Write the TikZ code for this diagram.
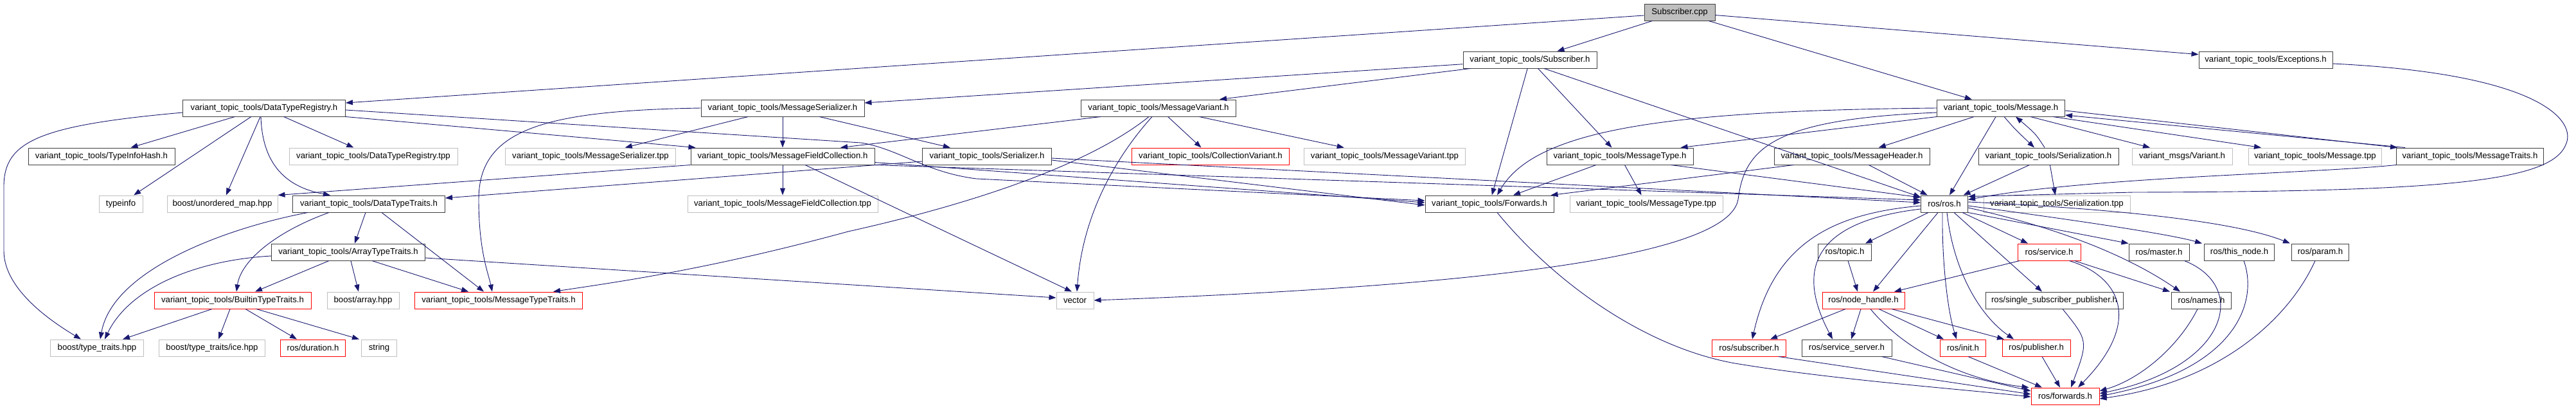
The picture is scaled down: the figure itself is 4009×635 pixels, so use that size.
\documentclass[tikz,border=0pt]{standalone}
\usepackage{fontspec}
\setmainfont{Liberation Sans}
\usetikzlibrary{arrows.meta}
\definecolor{edgec}{HTML}{191970}
\definecolor{grayb}{HTML}{BFBFBF}
\definecolor{darkb}{HTML}{404040}
\begin{document}
\begin{tikzpicture}[x=1pt,y=-1pt,
 nb/.style={draw=darkb,line width=1pt,fill=white,minimum height=26pt,inner sep=0pt,font=\fontsize{13.2}{15}\selectfont,text=black},
 gb/.style={nb,draw=grayb},
 rb/.style={nb,draw=red},
 rootb/.style={nb,fill=grayb},
 edg/.style={draw=edgec,line width=0.9pt,-{Triangle[length=11pt,width=8pt]}}]
\useasboundingbox (0,0) rectangle (4009,635);
% row 0-1
\node[rootb,minimum width=110pt] (scpp) at (2614,19) {Subscriber.cpp};
\node[nb,minimum width=208pt] (subh) at (2381,93) {variant\_topic\_tools/Subscriber.h};
\node[nb,minimum width=208pt] (exc) at (3526,93) {variant\_topic\_tools/Exceptions.h};
% row 2
\node[nb,minimum width=253pt] (dtr) at (411,168) {variant\_topic\_tools/DataTypeRegistry.h};
\node[nb,minimum width=254pt] (msh) at (1218,168) {variant\_topic\_tools/MessageSerializer.h};
\node[nb,minimum width=241pt] (mvh) at (1803,168) {variant\_topic\_tools/MessageVariant.h};
\node[nb,minimum width=199pt] (msg) at (3114,168) {variant\_topic\_tools/Message.h};
% row 3
\node[nb,minimum width=228pt] (tih) at (158,243) {variant\_topic\_tools/TypeInfoHash.h};
\node[gb,minimum width=262pt] (dtrtpp) at (581,243) {variant\_topic\_tools/DataTypeRegistry.tpp};
\node[gb,minimum width=265pt] (mstpp) at (919,243) {variant\_topic\_tools/MessageSerializer.tpp};
\node[nb,minimum width=286pt] (mfc) at (1218,243) {variant\_topic\_tools/MessageFieldCollection.h};
\node[nb,minimum width=201pt] (ser) at (1536,243) {variant\_topic\_tools/Serializer.h};
\node[rb,minimum width=245pt] (cv) at (1884,243) {variant\_topic\_tools/CollectionVariant.h};
\node[gb,minimum width=251pt] (mvtpp) at (2155,243) {variant\_topic\_tools/MessageVariant.tpp};
\node[nb,minimum width=228pt] (mth) at (2521,243) {variant\_topic\_tools/MessageType.h};
\node[nb,minimum width=242pt] (mhh) at (2882,243) {variant\_topic\_tools/MessageHeader.h};
\node[nb,minimum width=218pt] (slh) at (3188,243) {variant\_topic\_tools/Serialization.h};
\node[gb,minimum width=156pt] (var) at (3396,243) {variant\_msgs/Variant.h};
\node[gb,minimum width=207pt] (msgtpp) at (3603,243) {variant\_topic\_tools/Message.tpp};
\node[nb,minimum width=229pt] (mtr) at (3844,243) {variant\_topic\_tools/MessageTraits.h};
% row 4
\node[gb,minimum width=68pt] (tinfo) at (188,317) {typeinfo};
\node[gb,minimum width=172pt] (umap) at (346,317) {boost/unordered\_map.hpp};
\node[nb,minimum width=237pt] (dtt) at (574,317) {variant\_topic\_tools/DataTypeTraits.h};
\node[gb,minimum width=296pt] (mfctpp) at (1218,317) {variant\_topic\_tools/MessageFieldCollection.tpp};
\node[nb,minimum width=200pt] (fwd) at (2318,317) {variant\_topic\_tools/Forwards.h};
\node[gb,minimum width=238pt] (mttpp) at (2562,317) {variant\_topic\_tools/MessageType.tpp};
\node[nb,minimum width=73pt] (ros) at (3026,317) {ros/ros.h};
\node[gb,minimum width=228pt] (sltpp) at (3201,317) {variant\_topic\_tools/Serialization.tpp};
% row 5
\node[nb,minimum width=239pt] (att) at (542,392) {variant\_topic\_tools/ArrayTypeTraits.h};
\node[nb,minimum width=83pt] (topic) at (2871,392) {ros/topic.h};
\node[rb,minimum width=98pt] (service) at (3189,392) {ros/service.h};
\node[nb,minimum width=94pt] (master) at (3360,392) {ros/master.h};
\node[nb,minimum width=109pt] (thisnode) at (3485,392) {ros/this\_node.h};
\node[nb,minimum width=89pt] (param) at (3611,392) {ros/param.h};
% row 6
\node[rb,minimum width=244pt] (btt) at (362,467) {variant\_topic\_tools/BuiltinTypeTraits.h};
\node[gb,minimum width=112pt] (barr) at (565,467) {boost/array.hpp};
\node[rb,minimum width=261pt] (mtt) at (776,467) {variant\_topic\_tools/MessageTypeTraits.h};
\node[gb,minimum width=58pt] (vec) at (1673,467) {vector};
\node[rb,minimum width=128pt] (nh) at (2900,467) {ros/node\_handle.h};
\node[nb,minimum width=214pt] (ssp) at (3197,467) {ros/single\_subscriber\_publisher.h};
\node[nb,minimum width=93pt] (names) at (3426,467) {ros/names.h};
% row 7
\node[gb,minimum width=145pt] (btr) at (151,541) {boost/type\_traits.hpp};
\node[gb,minimum width=165pt] (ice) at (330,541) {boost/type\_traits/ice.hpp};
\node[rb,minimum width=101pt] (dur) at (487,541) {ros/duration.h};
\node[gb,minimum width=55pt] (str) at (590,541) {string};
\node[rb,minimum width=115pt] (sub) at (2722,541) {ros/subscriber.h};
\node[nb,minimum width=140pt] (ss) at (2874,541) {ros/service\_server.h};
\node[rb,minimum width=71pt] (init) at (3055,541) {ros/init.h};
\node[rb,minimum width=106pt] (pub) at (3169,541) {ros/publisher.h};
% row 8
\node[rb,minimum width=106pt] (rfwd) at (3214,616) {ros/forwards.h};

% ---- edges ----
\draw[edg] ([yshift=-5pt]scpp.west) -- ([yshift=8pt]dtr.east);
\draw[edg] (scpp) -- (subh);
\draw[edg] (scpp) -- (msg);
\draw[edg] (scpp) -- (exc);
\draw[edg] (subh) -- ([yshift=8pt]msh.east);
\draw[edg] ([xshift=12pt]subh.south west) -- ([xshift=95pt]mvh.north);
\draw[edg] (subh) -- (fwd);
\draw[edg] (subh) -- (mth);
\draw[edg] ([xshift=22pt]subh.south) -- ([yshift=-3pt]ros.north west);
% DataTypeRegistry
\draw[edg] (dtr) -- (tih);
\draw[edg] (dtr) -- (tinfo);
\draw[edg] (dtr) -- (umap);
\draw[edg] (dtr) -- (dtrtpp);
\draw[edg] ([xshift=-5pt]dtr.south) .. controls (408,250) and (440,290) .. ([xshift=-60pt]dtt.north);
\draw[edg] ([yshift=-7pt]dtr.west) .. controls (60,195) and (6,220) .. (6,290) -- (6,390) .. controls (6,450) and (80,500) .. ([xshift=-25pt]btr.north);
\draw[edg] ([yshift=-3pt]dtr.east) -- (1340,222) .. controls (1400,232) and (1440,268) .. (1520,278) -- ([yshift=5pt]fwd.west);
\draw[edg] (dtr.south east) -- ([xshift=8pt]mfc.north west);
% MessageSerializer
\draw[edg] (msh.west) .. controls (850,172) and (745,200) .. (745,310) .. controls (745,390) and (760,425) .. ([xshift=-10pt]mtt.north);
\draw[edg] (msh) -- (mstpp);
\draw[edg] (msh) -- (mfc);
\draw[edg] (msh) -- (ser);
% MessageFieldCollection
\draw[edg] (mfc.south west) -- (umap.north east);
\draw[edg] (mfc) -- (mfctpp);
\draw[edg] ([xshift=35pt]mfc.south) -- ([xshift=-5pt]vec.north);
\draw[edg] ([yshift=4pt]mfc.south east) -- ([yshift=2pt]fwd.west);
\draw[edg] (mfc.south east) -- ([yshift=6pt]ros.west);
% Serializer
\draw[edg] ([yshift=-8pt]ser.west) -- ([yshift=9pt]dtt.east);
\draw[edg] ([yshift=-6pt]ser.east) -- ([yshift=-2pt]fwd.west);
\draw[edg] ([yshift=-3pt]ser.east) -- ([yshift=2pt]ros.west);
% MessageVariant
\draw[edg] ([xshift=-90pt]mvh.south) -- ([xshift=90pt]mfc.north);
\draw[edg] ([xshift=-15pt]mvh.south) .. controls (1690,260) and (1500,320) .. (1320,360) .. controls (1100,420) and (950,440) .. ([xshift=85pt]mtt.north);
\draw[edg] ([xshift=-10pt]mvh.south) .. controls (1740,240) and (1685,330) .. ([xshift=3pt]vec.north);
\draw[edg] (mvh) -- (cv);
\draw[edg] (mvh) -- (mvtpp);
% Message
\draw[edg] (msg.west) .. controls (2600,172) and (2390,200) .. ([xshift=12pt]fwd.north);
\draw[edg] ([yshift=-7pt]msg.west) .. controls (2760,185) and (2715,230) .. (2705,310) .. controls (2690,400) and (2300,445) .. (vec.east);
\draw[edg] (msg.south west) -- ([xshift=-20pt]mth.north east);
\draw[edg] (msg) -- (mhh);
\draw[edg] (msg) -- (ros);
\draw[edg] ([xshift=5pt]msg.south) .. controls (3135,200) .. ([xshift=-22pt]slh.north);
\draw[edg] ([xshift=-6pt]slh.north) .. controls (3168,208) .. ([xshift=23pt]msg.south);
\draw[edg] ([xshift=46pt]msg.south) -- ([xshift=-50pt]var.north);
\draw[edg] ([xshift=-19pt]msg.south east) -- ([xshift=-84pt]msgtpp.north);
\draw[edg] ([yshift=-4pt]msg.east) -- ([xshift=2pt]mtr.north west);
\draw[edg] ([xshift=14pt]mtr.north west) -- ([yshift=-11pt]msg.east);
\draw[edg] (mtr.south west) .. controls (3600,270) and (3250,275) .. ([yshift=-7pt]ros.north east);
\draw[edg] ([yshift=-6pt]exc.east) .. controls (3960,115) and (4010,190) .. (3993,225) .. controls (3970,283) and (3800,298) .. (3320,299) -- ([yshift=-2pt]ros.north east);
% MessageHeader, MessageType, Serialization
\draw[edg] ([xshift=31pt]mhh.south west) -- ([xshift=-5pt]fwd.north east);
\draw[edg] (mhh) -- (ros);
\draw[edg] (mth) -- (fwd);
\draw[edg] (mth) -- (mttpp);
\draw[edg] ([xshift=-35pt]mth.south east) -- ([yshift=10pt]ros.west);
\draw[edg] (slh) -- (ros);
\draw[edg] (slh) -- (sltpp);
% DataTypeTraits
\draw[edg] ([xshift=-95pt]dtt.south) .. controls (350,355) and (175,420) .. ([xshift=5pt]btr.north);
\draw[edg] ([xshift=-62pt]dtt.south) .. controls (430,360) and (375,405) .. ([xshift=6pt]btt.north);
\draw[edg] ([xshift=-5pt]dtt.south) -- ([xshift=10pt]att.north);
\draw[edg] ([xshift=20pt]dtt.south) -- ([xshift=-23pt]mtt.north);
% ArrayTypeTraits
\draw[edg] ([yshift=-6pt]att.west) .. controls (300,405) and (200,450) .. ([xshift=12pt]btr.north);
\draw[edg] ([xshift=-30pt]att.south) -- ([xshift=35pt]btt.north);
\draw[edg] ([xshift=4pt]att.south) -- ([xshift=-7pt]barr.north);
\draw[edg] ([xshift=37pt]att.south) -- ([xshift=-47pt]mtt.north);
\draw[edg] ([yshift=-9pt]att.east) -- ([yshift=4pt]vec.west);
% BuiltinTypeTraits
\draw[edg] ([xshift=-32pt]btt.south) -- ([xshift=40pt]btr.north);
\draw[edg] ([xshift=-4pt]btt.south) -- ([xshift=10pt]ice.north);
\draw[edg] ([xshift=20pt]btt.south) -- ([xshift=-25pt]dur.north);
\draw[edg] ([xshift=37pt]btt.south) -- ([xshift=-3pt]str.north west);
% ros/ros.h
\draw[edg] ([xshift=-25pt]ros.south) -- ([xshift=32pt]topic.north);
\draw[edg] ([xshift=-10pt]ros.south) -- ([xshift=15pt]nh.north);
\draw[edg] ([yshift=-3pt]ros.west) .. controls (2850,332) and (2760,380) .. ([xshift=5pt]sub.north);
\draw[edg] ([yshift=-8pt]ros.west) .. controls (2820,345) and (2795,420) .. ([xshift=-22pt]ss.north);
\draw[edg] ([xshift=-3pt]ros.south) .. controls (3022,400) and (3030,480) .. ([xshift=-10pt]init.north);
\draw[edg] ([xshift=4pt]ros.south) .. controls (3040,420) and (3080,490) .. ([xshift=-35pt]pub.north);
\draw[edg] ([xshift=15pt]ros.south) -- ([xshift=-19pt]ssp.north);
\draw[edg] ([xshift=28pt]ros.south) -- ([xshift=-33pt]service.north);
\draw[edg] (ros.south east) -- (master.north west);
\draw[edg] ([yshift=-3pt]ros.east) .. controls (3250,345) and (3380,365) .. ([xshift=-3pt]thisnode.north west);
\draw[edg] ([yshift=3pt]ros.east) .. controls (3300,325) and (3480,345) .. ([xshift=-2pt]param.north west);
\draw[edg] ([yshift=-6pt]ros.east) .. controls (3230,360) and (3330,410) .. ([xshift=-33pt]names.north);
% service, topic
\draw[edg] ([xshift=-46pt]service.south) -- ([xshift=48pt]nh.north);
\draw[edg] ([xshift=-10pt]service.south east) -- ([xshift=-2pt]names.north west);
\draw[edg] ([xshift=-18pt]service.south east) .. controls (3300,430) and (3335,500) .. ([xshift=20pt]rfwd.north);
\draw[edg] ([xshift=5pt]topic.south) -- ([xshift=-9pt]nh.north);
% node_handle
\draw[edg] ([xshift=-28pt]nh.south) -- ([xshift=33pt]sub.north);
\draw[edg] ([xshift=-4pt]nh.south) -- ([xshift=7pt]ss.north);
\draw[edg] ([xshift=11pt]nh.south) .. controls (2960,540) and (3050,590) .. ([xshift=-3pt]rfwd.north west);
\draw[edg] ([xshift=24pt]nh.south) -- ([xshift=-30pt]init.north);
\draw[edg] ([xshift=44pt]nh.south) -- ([xshift=-50pt]pub.north);
% into ros/forwards.h
\draw[edg] ([xshift=-12pt]sub.south east) -- ([yshift=3pt]rfwd.west);
\draw[edg] ([xshift=-16pt]ss.south east) -- ([yshift=8pt]rfwd.west);
\draw[edg] ([xshift=12pt]fwd.south) .. controls (2420,440) and (2560,540) .. (2700,565) .. controls (2850,590) and (3050,605) .. ([yshift=-1pt]rfwd.west);
\draw[edg] ([xshift=8pt]init.south) -- ([xshift=-36pt]rfwd.north);
\draw[edg] ([xshift=9pt]pub.south) -- ([xshift=-8pt]rfwd.north);
\draw[edg] ([xshift=13pt]ssp.south) .. controls (3250,530) .. ([xshift=9pt]rfwd.north);
\draw[edg] ([xshift=-6pt]names.south) .. controls (3390,540) and (3330,590) .. ([yshift=8pt]rfwd.east);
\draw[edg] ([xshift=-8pt]master.south east) .. controls (3500,445) and (3470,570) .. ([yshift=4pt]rfwd.east);
\draw[edg] ([xshift=7pt]thisnode.south) .. controls (3515,470) and (3480,575) .. (rfwd.east);
\draw[edg] ([xshift=-8pt]param.south) .. controls (3560,500) and (3450,595) .. ([yshift=-4pt]rfwd.east);
\end{tikzpicture}
\end{document}
